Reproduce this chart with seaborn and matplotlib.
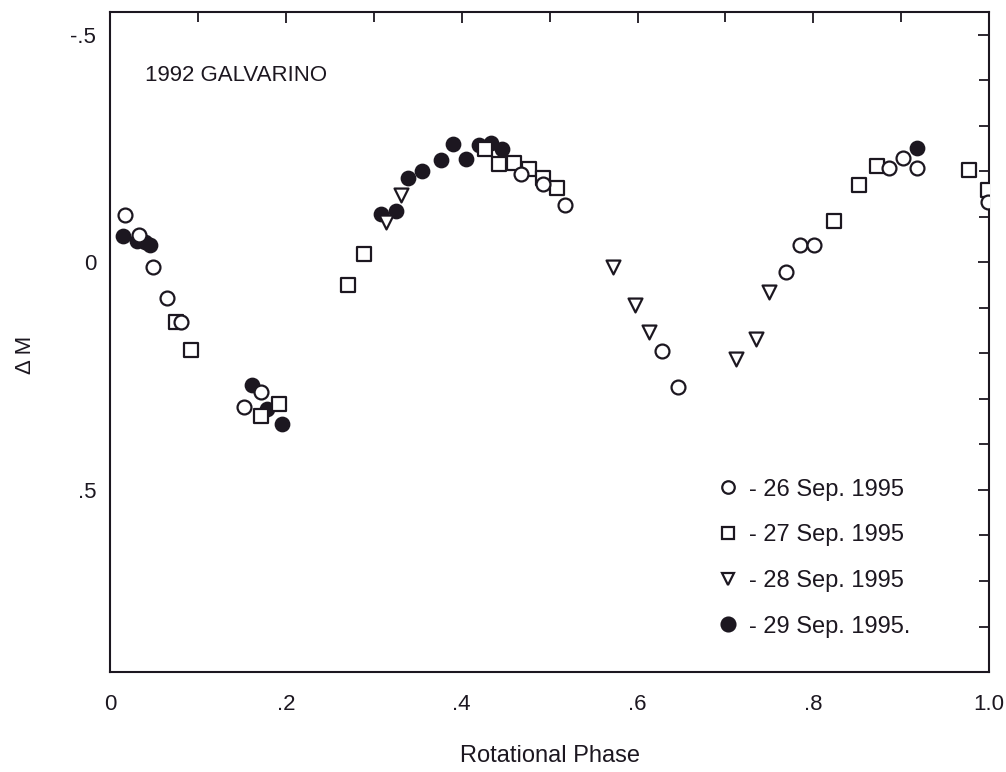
import matplotlib
matplotlib.use("Agg")
import matplotlib.pyplot as plt
import seaborn as sns
from matplotlib.lines import Line2D
from matplotlib.ticker import MultipleLocator, FixedLocator

# --- data (phase, delta M) ---
sep26_phase = [0.017, 0.033, 0.049, 0.065, 0.081, 0.153, 0.172, 0.468, 0.492, 0.517,
               0.628, 0.646, 0.769, 0.785, 0.801, 0.886, 0.902, 0.918, 0.999]
sep26_dm = [-0.103, -0.059, 0.011, 0.079, 0.132, 0.318, 0.285, -0.193, -0.173, -0.125,
            0.195, 0.274, 0.022, -0.037, -0.037, -0.208, -0.230, -0.208, -0.132]

sep27_phase = [0.075, 0.092, 0.172, 0.192, 0.271, 0.289, 0.427, 0.443, 0.460, 0.477,
               0.492, 0.509, 0.824, 0.852, 0.872, 0.977, 0.999]
sep27_dm = [0.132, 0.193, 0.338, 0.311, 0.050, -0.018, -0.248, -0.215, -0.219, -0.206,
            -0.186, -0.164, -0.090, -0.169, -0.211, -0.202, -0.158]

sep28_phase = [0.314, 0.331, 0.572, 0.597, 0.613, 0.712, 0.735, 0.750]
sep28_dm = [-0.088, -0.147, 0.011, 0.094, 0.154, 0.213, 0.169, 0.066]

sep29_phase = [0.015, 0.031, 0.040, 0.046, 0.161, 0.179, 0.196, 0.308, 0.325, 0.339,
               0.355, 0.376, 0.390, 0.405, 0.420, 0.433, 0.446, 0.918]
sep29_dm = [-0.057, -0.046, -0.044, -0.039, 0.270, 0.322, 0.355, -0.107, -0.112, -0.186,
            -0.200, -0.224, -0.261, -0.228, -0.257, -0.263, -0.250, -0.252]

labels = ["- 26 Sep. 1995", "- 27 Sep. 1995", "- 28 Sep. 1995", "- 29 Sep. 1995."]

sns.set_style("white")
plt.rcParams["font.family"] = ["Liberation Sans Narrow", "Liberation Sans", "DejaVu Sans"]
ink = "#1c1720"

fig = plt.figure(figsize=(10.06, 7.72), dpi=100)
ax = fig.add_axes([0.1093, 0.1295, 0.874, 0.855])

series = [
    (sep29_phase, sep29_dm, "o", ink, 95),
    (sep27_phase, sep27_dm, "s", "white", 90),
    (sep28_phase, sep28_dm, "v", "white", 100),
    (sep26_phase, sep26_dm, "o", "white", 100),
]
for xs, ys, mk, fc, size in series:
    sns.scatterplot(x=xs, y=ys, marker=mk, s=size,
                    facecolor=fc, edgecolor=ink, linewidth=1.6, ax=ax,
                    clip_on=True, zorder=3)

ax.set_xlim(0, 1.0)
ax.set_ylim(0.9, -0.55)

ax.xaxis.set_major_locator(FixedLocator([0, 0.2, 0.4, 0.6, 0.8, 1.0]))
ax.set_xticklabels(["0", ".2", ".4", ".6", ".8", "1.0"])
ax.xaxis.set_minor_locator(FixedLocator([0.1, 0.3, 0.5, 0.7, 0.9]))
ax.yaxis.set_major_locator(FixedLocator([-0.5, 0, 0.5]))
ax.set_yticklabels(["-.5", "0", ".5"])
ax.yaxis.set_minor_locator(MultipleLocator(0.1))

ax.tick_params(which="both", direction="in", top=True, right=True, color=ink,
               width=1.3, labelsize=16, labelcolor=ink)
ax.tick_params(which="major", length=8)
ax.tick_params(which="minor", length=7)
ax.tick_params(axis="x", pad=16)
ax.tick_params(axis="y", pad=10)
for sp in ax.spines.values():
    sp.set_color(ink)
    sp.set_linewidth(1.5)

ax.set_xlabel("Rotational Phase", fontsize=17, color=ink)
ax.set_ylabel("\u0394 M", fontsize=16, color=ink)
ax.xaxis.set_label_coords(0.5, -0.11)
ax.yaxis.set_label_coords(-0.084, 0.48)

ax.text(0.04, -0.41, "1992 GALVARINO", fontsize=16, color=ink, va="center")

handles = [
    Line2D([], [], ls="", marker="o", ms=9, mfc="white", mec=ink, mew=1.6),
    Line2D([], [], ls="", marker="s", ms=9, mfc="white", mec=ink, mew=1.6),
    Line2D([], [], ls="", marker="v", ms=9, mfc="white", mec=ink, mew=1.6),
    Line2D([], [], ls="", marker="o", ms=10, mfc=ink, mec=ink, mew=1.6),
]
leg = ax.legend(handles, labels, loc="lower right", bbox_to_anchor=(0.935, 0.02),
                frameon=False, fontsize=17, labelspacing=1.0, handletextpad=0.3,
                handlelength=1.2)
for t in leg.get_texts():
    t.set_color(ink)

fig.savefig("out.png", dpi=100, facecolor="white")
